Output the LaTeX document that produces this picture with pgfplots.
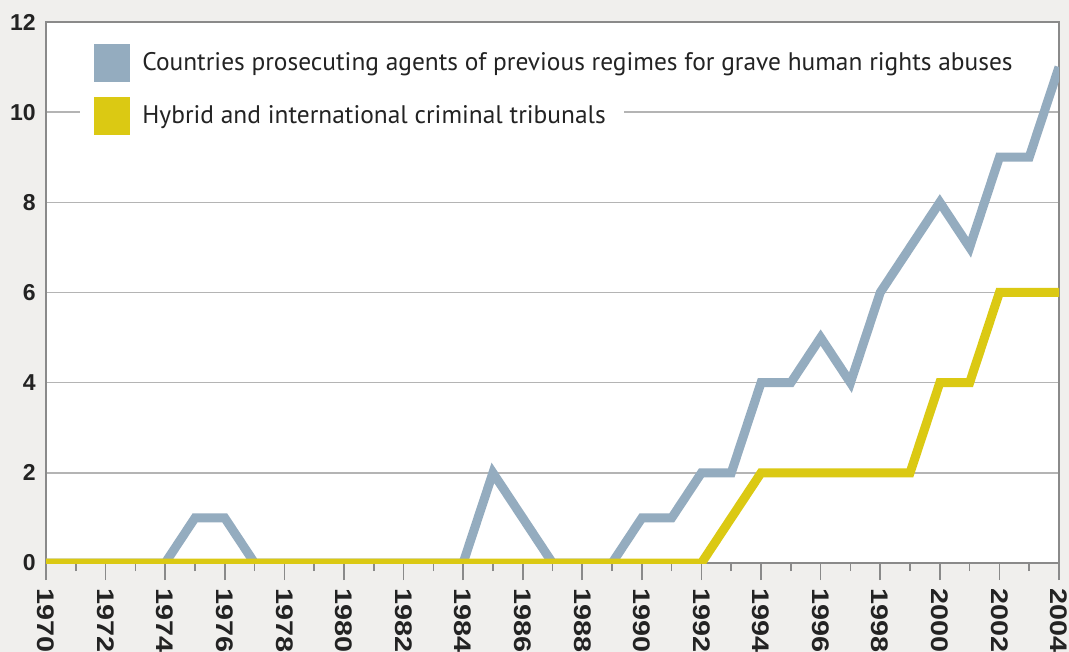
\documentclass[border=0pt]{standalone}
\usepackage{pgfplots}
\pgfplotsset{compat=1.18}
\usepackage{fontspec}
\setmainfont{PT Sans}
\newfontfamily\labfont{Liberation Sans}
\usetikzlibrary{backgrounds}
\definecolor{bluec}{RGB}{148,172,191}
\definecolor{yelc}{RGB}{219,201,19}
\definecolor{bgc}{RGB}{240,239,237}
\definecolor{gridc}{RGB}{180,180,180}
\definecolor{framec}{RGB}{138,138,138}
\definecolor{textc}{RGB}{35,35,35}
\begin{document}
\begin{tikzpicture}
\begin{axis}[
  scale only axis, width=506.5pt, height=270.5pt,
  xmin=1970, xmax=2004, ymin=0, ymax=12,
  axis background/.style={fill=white},
  axis line style={framec, line width=0.8pt},
  xtick={1970,1972,...,2004},
  minor xtick={1971,1973,...,2003},
  xtick pos=bottom, ytick pos=left, tick align=outside,
  major tick length=8.5pt, minor tick length=4pt,
  x tick style={framec, line width=0.8pt},
  y tick style={draw=none},
  /pgf/number format/assume math mode=true,
  /pgf/number format/1000 sep={},
  xticklabel={\scalebox{1.2}[1]{\pgfmathprintnumber{\tick}}},
  xticklabel shift=4pt,
  x tick label style={rotate=-90, anchor=west, inner sep=0pt, font=\labfont\bfseries\fontsize{12}{12}\selectfont, textc},
  y tick label style={inner sep=0pt, xshift=3.5pt, font=\labfont\bfseries\fontsize{11.5}{11.5}\selectfont, textc},
  ytick={0,2,...,12}, ymajorgrids, grid style={gridc, line width=0.8pt},
  legend cell align=left,
  legend style={at={(rel axis cs:0,1)}, anchor=north west, xshift=17pt, yshift=-11pt,
    draw=none, fill=none, inner sep=0pt, row sep=7.5pt, column sep=0pt,
    font=\fontsize{12.7}{13}\selectfont, text=textc,
    nodes={fill=white, inner xsep=0pt, inner ysep=2pt}},
]
\addplot[bluec, line width=4.5pt, line join=miter, miter limit=3,
  legend image code/.code={\path[fill=white, draw=none] (-7pt,-9.5pt) rectangle (24pt,9.5pt); \path[fill=bluec, draw=none] (0pt,-9.5pt) rectangle (18pt,9.5pt);}]
  coordinates {(1970,0)(1971,0)(1972,0)(1973,0)(1974,0)(1975,1)(1976,1)(1977,0)(1978,0)(1979,0)(1980,0)(1981,0)(1982,0)(1983,0)(1984,0)(1985,2)(1986,1)(1987,0)(1988,0)(1989,0)(1990,1)(1991,1)(1992,2)(1993,2)(1994,4)(1995,4)(1996,5)(1997,4)(1998,6)(1999,7)(2000,8)(2001,7)(2002,9)(2003,9)(2004,11)};
\addlegendentry{Countries prosecuting agents of previous regimes for grave human rights abuses}
\addplot[yelc, line width=4.5pt, line join=miter, miter limit=3,
  legend image code/.code={\path[fill=white, draw=none] (-7pt,-9.5pt) rectangle (24pt,9.5pt); \path[fill=yelc, draw=none] (0pt,-9.5pt) rectangle (18pt,9.5pt);}]
  coordinates {(1970,0)(1972,0)(1974,0)(1976,0)(1978,0)(1980,0)(1982,0)(1984,0)(1986,0)(1988,0)(1990,0)(1992,0)(1993,1)(1994,2)(1995,2)(1996,2)(1997,2)(1998,2)(1999,2)(2000,4)(2001,4)(2002,6)(2003,6)(2004,6)};
\addlegendentry{Hybrid and international criminal tribunals\rule{9pt}{0pt}}
\end{axis}
\pgfresetboundingbox
\begin{scope}[on background layer]
\fill[bgc] ([shift={(-23pt,-44.5pt)}]current axis.south west) rectangle ([shift={(5pt,11pt)}]current axis.north east);
\end{scope}
\end{tikzpicture}
\end{document}
